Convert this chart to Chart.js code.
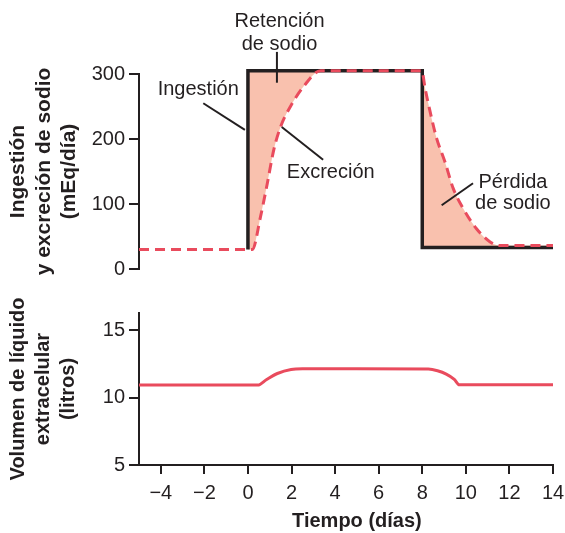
<!DOCTYPE html>
<html>
<head>
<meta charset="utf-8">
<script src="https://cdn.jsdelivr.net/npm/chart.js@4.4.1/dist/chart.umd.min.js"></script>
<style>
html,body{margin:0;padding:0;background:#ffffff;}
#wrap{position:relative;width:565px;height:533px;overflow:hidden;}
canvas{position:absolute;left:0;top:0;}
</style>
</head>
<body>
<div id="wrap">
<canvas id="topChart" width="565" height="533"></canvas>
<canvas id="bottomChart" width="565" height="533"></canvas>
</div>
<script>
// ---------------- data ----------------
const xTickValues = [-4, -2, 0, 2, 4, 6, 8, 10, 12, 14];
const xTickLabels = ['\u22124', '\u22122', '0', '2', '4', '6', '8', '10', '12', '14'];
const topTickValues = [0, 100, 200, 300];
const bottomTickValues = [5, 10, 15];

const intakeDays   = [0, 0, 8, 8, 14];
const intakeValues = [30, 305, 305, 33, 33];

const excretionDays   = [-5, 0.2, 0.58, 0.89, 1.19, 1.5, 1.95, 2.56, 3.33, 7.98, 8.13, 8.36, 8.66, 9.04, 9.42, 9.88, 10.49, 11.1, 11.56, 14];
const excretionValues = [30, 30, 81, 132, 184, 219, 250, 281, 305, 305, 278, 242, 201, 165, 124, 93, 62, 42, 36, 36];

const volumeDays   = [-5, 0.45, 0.86, 1.35, 1.98, 2.5, 5, 8.28, 8.7, 9.1, 9.47, 9.7, 14];
const volumeValues = [10.93, 10.93, 11.35, 11.79, 12.09, 12.14, 12.14, 12.12, 11.99, 11.74, 11.35, 10.95, 10.95];

const topTitle = ['Ingesti\u00f3n', 'y excreci\u00f3n de sodio', '(mEq/d\u00eda)'];
const bottomTitle = ['Volumen de l\u00edquido', 'extracelular', '(litros)'];
const xTitle = 'Tiempo (d\u00edas)';

// ---------------- style ----------------
const INK = '#231F20';
const RED = '#E94B5D';
const FILL = '#F9C1AE';
const FONT = '"Liberation Sans", Arial, Helvetica, sans-serif';
Chart.defaults.font.family = FONT;
Chart.defaults.color = INK;
Chart.defaults.animation = false;

// annotation labels placed in data coordinates of the top chart
const topNotes = {
  texts: [
    {t: 'Retenci\u00f3n', x: 1.45, y: 381},
    {t: 'de sodio', x: 1.45, y: 345},
    {t: 'Ingesti\u00f3n', x: -2.28, y: 276},
    {t: 'Excreci\u00f3n', x: 3.8, y: 148},
    {t: 'P\u00e9rdida', x: 12.16, y: 133},
    {t: 'de sodio', x: 12.16, y: 100.5}
  ],
  leaders: [
    [1.33, 334, 1.33, 286.6],
    [-2.05, 255, -0.14, 214],
    [1.55, 218.5, 3.45, 168],
    [10.33, 132, 8.89, 98]
  ]
};

const toXY = (xs, ys) => xs.map((x, i) => ({x: x, y: ys[i]}));

const betweenFill = {
  id: 'betweenFill',
  beforeDatasetsDraw(chart) {
    const ctx = chart.ctx;
    const pts = chart.getDatasetMeta(0).data;
    const line = chart.getDatasetMeta(1).dataset;
    ctx.save();
    ctx.beginPath();
    ctx.moveTo(pts[0].x, pts[0].y);
    for (let i = 1; i < pts.length; i++) ctx.lineTo(pts[i].x, pts[i].y);
    try {
      line.updateControlPoints(chart.chartArea, 'x');
      line.pathSegment(ctx, line.segments[0], {move: false, reverse: true});
    } catch (e) {
      const ep = chart.getDatasetMeta(1).data;
      for (let i = ep.length - 1; i >= 0; i--) ctx.lineTo(ep[i].x, ep[i].y);
    }
    ctx.closePath();
    ctx.fillStyle = FILL;
    ctx.fill('nonzero');
    ctx.restore();
  }
};

const notesPlugin = {
  id: 'notes',
  afterDraw(chart) {
    const ctx = chart.ctx, xs = chart.scales.x, ys = chart.scales.y;
    ctx.save();
    ctx.strokeStyle = INK;
    ctx.lineWidth = 2;
    topNotes.leaders.forEach(l => {
      ctx.beginPath();
      ctx.moveTo(xs.getPixelForValue(l[0]), ys.getPixelForValue(l[1]));
      ctx.lineTo(xs.getPixelForValue(l[2]), ys.getPixelForValue(l[3]));
      ctx.stroke();
    });
    ctx.fillStyle = INK;
    ctx.font = '20px ' + FONT;
    ctx.textAlign = 'center';
    ctx.textBaseline = 'middle';
    topNotes.texts.forEach(n => {
      ctx.fillText(n.t, xs.getPixelForValue(n.x), ys.getPixelForValue(n.y));
    });
    ctx.restore();
  }
};

const xTitlePlugin = {
  id: 'xTitle',
  afterDraw(chart) {
    const ctx = chart.ctx, xs = chart.scales.x;
    const mid = (xTickValues[0] + xTickValues[xTickValues.length - 1]) / 2;
    ctx.save();
    ctx.fillStyle = INK;
    ctx.font = 'bold 20px ' + FONT;
    ctx.textAlign = 'center';
    ctx.textBaseline = 'middle';
    ctx.fillText(xTitle, xs.getPixelForValue(mid), 521);
    ctx.restore();
  }
};

const axisCommon = {
  grid: {drawOnChartArea: false, drawTicks: true, tickLength: 10, color: INK, lineWidth: 2},
  border: {display: true, color: INK, width: 2}
};

// ---------------- top chart ----------------
new Chart(document.getElementById('topChart'), {
  type: 'line',
  data: {
    datasets: [
      {
        label: 'Ingesti\u00f3n',
        data: toXY(intakeDays, intakeValues),
        borderColor: INK, borderWidth: 3.5, pointRadius: 0, tension: 0,
        borderJoinStyle: 'miter', borderCapStyle: 'butt', fill: false, clip: false, order: 2
      },
      {
        label: 'Excreci\u00f3n',
        data: toXY(excretionDays, excretionValues),
        borderColor: RED, borderWidth: 3, borderDash: [10, 6], pointRadius: 0,
        cubicInterpolationMode: 'monotone', fill: false, clip: false, order: 1
      }
    ]
  },
  options: {
    responsive: false,
    animation: false,
    layout: {padding: {left: 0, right: 12, top: 74, bottom: 264}},
    plugins: {legend: {display: false}, tooltip: {enabled: false}},
    scales: {
      x: {type: 'linear', min: -5, max: 14, display: false},
      y: {
        type: 'linear', min: 0, max: 300,
        afterFit(s) { s.width = 139; },
        afterBuildTicks(s) { s.ticks = topTickValues.map(v => ({value: v})); },
        ticks: {color: INK, font: {size: 20}, padding: 4},
        grid: axisCommon.grid, border: axisCommon.border,
        title: {display: true, text: topTitle, color: INK, font: {size: 21, weight: 'bold', lineHeight: 1.2}, padding: {top: 6, bottom: 0}}
      }
    }
  },
  plugins: [betweenFill, notesPlugin]
});

// ---------------- bottom chart ----------------
new Chart(document.getElementById('bottomChart'), {
  type: 'line',
  data: {
    datasets: [
      {
        label: 'Volumen',
        data: toXY(volumeDays, volumeValues),
        borderColor: RED, borderWidth: 3, pointRadius: 0,
        cubicInterpolationMode: 'monotone', fill: false, clip: false
      }
    ]
  },
  options: {
    responsive: false,
    animation: false,
    layout: {padding: {left: 0, right: 12, top: 313, bottom: 0}},
    plugins: {legend: {display: false}, tooltip: {enabled: false}},
    scales: {
      x: {
        type: 'linear', min: -5, max: 14,
        afterFit(s) { s.height = 68; s.paddingLeft = 0; s.paddingRight = 0; },
        afterBuildTicks(s) { s.ticks = xTickValues.map(v => ({value: v})); },
        ticks: {color: INK, font: {size: 20}, padding: 7, maxRotation: 0, autoSkip: false,
                callback: (v, i) => xTickLabels[i]},
        grid: {drawOnChartArea: false, drawTicks: true, tickLength: 9, color: INK, lineWidth: 2},
        border: axisCommon.border
      },
      y: {
        type: 'linear', min: 5, max: 16.28,
        afterFit(s) { s.width = 139; },
        afterBuildTicks(s) { s.ticks = bottomTickValues.map(v => ({value: v})); },
        ticks: {color: INK, font: {size: 20}, padding: 4},
        grid: axisCommon.grid, border: axisCommon.border,
        title: {display: true, text: bottomTitle, color: INK, font: {size: 20, weight: 'bold', lineHeight: 1.25}, padding: {top: 6, bottom: 0}}
      }
    }
  },
  plugins: [xTitlePlugin]
});
</script>
</body>
</html>
